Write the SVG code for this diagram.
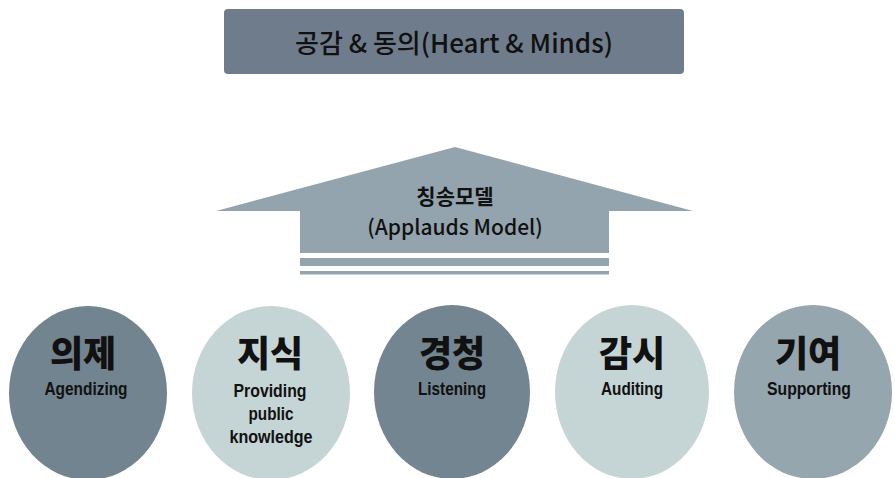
<svg xmlns="http://www.w3.org/2000/svg" width="895" height="478" viewBox="0 0 895 478">
<style>
.ko{font-family:"Noto Sans CJK KR","Noto Sans",sans-serif;fill:#111;text-anchor:middle}
.big{font-size:36px;font-weight:900}
.en{font-family:"Liberation Sans","Noto Sans",sans-serif;font-size:18px;font-weight:bold;fill:#111;text-anchor:middle}
</style>
<rect width="895" height="478" fill="#ffffff"/>
<g id="top">
<rect x="224" y="9" width="460" height="65" rx="4" fill="#6f7c8b"/>
<text class="ko" x="454" y="53" font-size="26" font-weight="500">공감 &amp; 동의(Heart &amp; Minds)</text>
</g>
<g id="arrow">
<polygon points="455,147 693,211 609,211 609,253 300,253 300,211 216,211" fill="#94a4ae"/>
<rect x="300" y="258" width="309" height="8" fill="#94a4ae"/>
<rect x="300" y="271" width="309" height="3.5" fill="#94a4ae"/>
<text class="ko" x="455" y="204" font-size="21" font-weight="bold">칭송모델</text>
<text class="ko" x="455" y="235" font-size="21" font-weight="500">(Applauds Model)</text>
</g>
<g id="n1">
<ellipse cx="88" cy="393" rx="79" ry="87" fill="#71848f"/>
<text class="ko big" x="83" y="367">의제</text>
<text class="en" x="86" y="395" textLength="83" lengthAdjust="spacingAndGlyphs">Agendizing</text>
</g>
<g id="n2">
<ellipse cx="271" cy="393" rx="79" ry="87" fill="#c5d5d6"/>
<text class="ko big" x="270" y="367">지식</text>
<text class="en" x="270" y="397" textLength="73" lengthAdjust="spacingAndGlyphs">Providing</text>
<text class="en" x="271" y="420" textLength="45" lengthAdjust="spacingAndGlyphs">public</text>
<text class="en" x="271" y="443" textLength="83" lengthAdjust="spacingAndGlyphs">knowledge</text>
</g>
<g id="n3">
<ellipse cx="452" cy="392" rx="78" ry="87" fill="#738590"/>
<text class="ko big" x="452" y="367">경청</text>
<text class="en" x="452" y="395" textLength="68" lengthAdjust="spacingAndGlyphs">Listening</text>
</g>
<g id="n4">
<ellipse cx="632" cy="392" rx="77" ry="87" fill="#c5d5d6"/>
<text class="ko big" x="632" y="367">감시</text>
<text class="en" x="632" y="395" textLength="62" lengthAdjust="spacingAndGlyphs">Auditing</text>
</g>
<g id="n5">
<ellipse cx="813" cy="392" rx="79" ry="87" fill="#95a6ae"/>
<text class="ko big" x="808" y="367">기여</text>
<text class="en" x="809" y="395" textLength="84" lengthAdjust="spacingAndGlyphs">Supporting</text>
</g>
<g id="connectors"></g>
</svg>
